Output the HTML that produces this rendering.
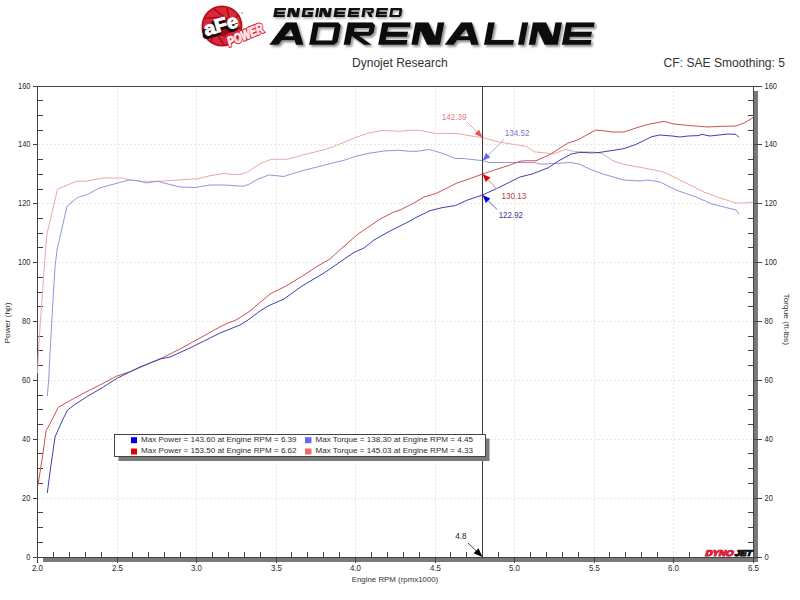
<!DOCTYPE html><html><head><meta charset="utf-8"><style>html,body{margin:0;padding:0;background:#fff;width:800px;height:600px;overflow:hidden}svg{display:block}text{font-family:"Liberation Sans",sans-serif}</style></head><body>
<svg width="800" height="600" viewBox="0 0 800 600">
<rect width="800" height="600" fill="#fff"/>
<g id="logo">
<circle cx="222" cy="26" r="20.5" fill="#b80c1c"/>
<circle cx="222" cy="26" r="18.8" fill="#d8283a"/>
<line x1="240.4" y1="27.6" x2="223.6" y2="34.9" stroke="#a00818" stroke-width="1.3"/>
<line x1="235.1" y1="39.1" x2="217.5" y2="33.8" stroke="#a00818" stroke-width="1.3"/>
<line x1="223.6" y1="44.4" x2="213.5" y2="29.1" stroke="#a00818" stroke-width="1.3"/>
<line x1="211.4" y1="41.2" x2="213.5" y2="22.9" stroke="#a00818" stroke-width="1.3"/>
<line x1="204.1" y1="30.8" x2="217.5" y2="18.2" stroke="#a00818" stroke-width="1.3"/>
<line x1="205.2" y1="18.2" x2="223.6" y2="17.1" stroke="#a00818" stroke-width="1.3"/>
<line x1="214.2" y1="9.2" x2="228.9" y2="20.2" stroke="#a00818" stroke-width="1.3"/>
<line x1="226.8" y1="8.1" x2="231.0" y2="26.0" stroke="#a00818" stroke-width="1.3"/>
<line x1="237.2" y1="15.4" x2="228.9" y2="31.8" stroke="#a00818" stroke-width="1.3"/>
<circle cx="222" cy="26" r="9" fill="#9a0a16"/>
<text x="220.6" y="33.4" transform="rotate(-15.7 222 31.3)" font-size="19" font-weight="bold" fill="#1a0a0c" stroke="#1a0a0c" stroke-width="2.6" text-anchor="middle" textLength="35" lengthAdjust="spacingAndGlyphs">aFe</text>
<text x="222.5" y="31.3" transform="rotate(-15.7 222 31.3)" font-size="19" font-weight="bold" fill="#fff" stroke="#fff" stroke-width="1" text-anchor="middle" textLength="35" lengthAdjust="spacingAndGlyphs">aFe</text>
<text x="247" y="39" transform="rotate(-23 247 39)" font-size="13.5" font-weight="bold" font-style="italic" fill="#fad4dc" stroke="#d81c30" stroke-width="3" paint-order="stroke" text-anchor="middle" textLength="38" lengthAdjust="spacingAndGlyphs">POWER</text>
<text x="247" y="39" transform="rotate(-23 247 39)" font-size="13.5" font-weight="bold" font-style="italic" fill="#fde4e8" stroke="#fde4e8" stroke-width="0.9" text-anchor="middle" textLength="38" lengthAdjust="spacingAndGlyphs">POWER</text>
<circle cx="242" cy="13" r="1" fill="#aaa"/>
</g>
<defs><filter id="blur1" x="-5%" y="-20%" width="110%" height="140%"><feGaussianBlur stdDeviation="0.8"/></filter></defs>
<path d="M274.76,8.00L286.06,8.00L285.69,10.20L277.39,10.20L277.13,11.74L285.03,11.74L284.64,14.05L276.73,14.05L276.62,14.70L284.92,14.70L284.55,16.90L273.25,16.90ZM288.51,8.00L293.69,8.00L296.06,13.61L297.01,8.00L300.01,8.00L298.50,16.90L293.32,16.90L290.95,11.29L290.00,16.90L287.00,16.90ZM303.01,8.00L313.91,8.00L313.54,10.20L305.64,10.20L304.87,14.70L309.77,14.70L309.86,14.20L307.41,14.20L307.78,12.00L313.23,12.00L312.40,16.90L301.50,16.90ZM316.51,8.00L319.11,8.00L317.60,16.90L315.00,16.90ZM320.31,8.00L325.49,8.00L327.86,13.61L328.81,8.00L331.81,8.00L330.30,16.90L325.12,16.90L322.75,11.29L321.80,16.90L318.80,16.90ZM334.91,8.00L346.11,8.00L345.74,10.20L337.54,10.20L337.28,11.74L345.09,11.74L344.69,14.05L336.88,14.05L336.77,14.70L344.97,14.70L344.60,16.90L333.40,16.90ZM348.91,8.00L360.11,8.00L359.74,10.20L351.54,10.20L351.28,11.74L359.09,11.74L358.69,14.05L350.88,14.05L350.77,14.70L358.97,14.70L358.60,16.90L347.40,16.90ZM362.91,8.00L373.01,8.00L374.01,9.20L373.51,12.14L372.11,13.34L371.06,13.34L372.70,16.90L369.25,16.90L365.71,9.19L364.40,16.90L361.40,16.90ZM366.10,10.22L365.84,11.74L371.18,11.74L371.43,10.22ZM376.91,8.00L388.11,8.00L387.74,10.20L379.54,10.20L379.28,11.74L387.09,11.74L386.69,14.05L378.88,14.05L378.77,14.70L386.97,14.70L386.60,16.90L375.40,16.90ZM390.71,8.00L401.31,8.00L402.31,9.20L401.20,15.70L399.80,16.90L389.20,16.90ZM393.04,10.20L392.24,14.92L398.64,14.92L399.44,10.20Z" fill="#888" fill-rule="evenodd" transform="translate(1.2,1.6)" filter="url(#blur1)" opacity="0.8"/>
<path d="M274.76,8.00L286.06,8.00L285.69,10.20L277.39,10.20L277.13,11.74L285.03,11.74L284.64,14.05L276.73,14.05L276.62,14.70L284.92,14.70L284.55,16.90L273.25,16.90ZM288.51,8.00L293.69,8.00L296.06,13.61L297.01,8.00L300.01,8.00L298.50,16.90L293.32,16.90L290.95,11.29L290.00,16.90L287.00,16.90ZM303.01,8.00L313.91,8.00L313.54,10.20L305.64,10.20L304.87,14.70L309.77,14.70L309.86,14.20L307.41,14.20L307.78,12.00L313.23,12.00L312.40,16.90L301.50,16.90ZM316.51,8.00L319.11,8.00L317.60,16.90L315.00,16.90ZM320.31,8.00L325.49,8.00L327.86,13.61L328.81,8.00L331.81,8.00L330.30,16.90L325.12,16.90L322.75,11.29L321.80,16.90L318.80,16.90ZM334.91,8.00L346.11,8.00L345.74,10.20L337.54,10.20L337.28,11.74L345.09,11.74L344.69,14.05L336.88,14.05L336.77,14.70L344.97,14.70L344.60,16.90L333.40,16.90ZM348.91,8.00L360.11,8.00L359.74,10.20L351.54,10.20L351.28,11.74L359.09,11.74L358.69,14.05L350.88,14.05L350.77,14.70L358.97,14.70L358.60,16.90L347.40,16.90ZM362.91,8.00L373.01,8.00L374.01,9.20L373.51,12.14L372.11,13.34L371.06,13.34L372.70,16.90L369.25,16.90L365.71,9.19L364.40,16.90L361.40,16.90ZM366.10,10.22L365.84,11.74L371.18,11.74L371.43,10.22ZM376.91,8.00L388.11,8.00L387.74,10.20L379.54,10.20L379.28,11.74L387.09,11.74L386.69,14.05L378.88,14.05L378.77,14.70L386.97,14.70L386.60,16.90L375.40,16.90ZM390.71,8.00L401.31,8.00L402.31,9.20L401.20,15.70L399.80,16.90L389.20,16.90ZM393.04,10.20L392.24,14.92L398.64,14.92L399.44,10.20Z" fill="#111" fill-rule="evenodd"/>
<path d="M269.40,44.70L285.96,22.50L296.64,22.50L303.50,44.70L296.00,44.70L294.63,40.26L281.78,40.26L278.47,44.70ZM284.76,36.26L293.39,36.26L290.63,29.16ZM313.42,22.50L338.42,22.50L340.85,25.50L337.77,41.70L334.20,44.70L309.20,44.70ZM318.38,27.20L315.85,40.47L332.15,40.47L334.67,27.20ZM347.92,22.50L372.62,22.50L375.05,25.50L373.66,32.82L370.09,35.82L359.15,35.82L371.40,44.70L363.93,44.70L351.86,35.96L350.20,44.70L343.70,44.70ZM354.75,28.05L354.03,31.82L368.65,31.82L369.36,28.05ZM382.47,22.50L410.77,22.50L409.88,27.20L388.07,27.20L387.20,31.82L408.01,31.82L407.07,36.76L386.26,36.76L385.64,40.00L407.44,40.00L406.55,44.70L378.25,44.70ZM415.62,22.50L428.53,22.50L435.16,36.49L437.82,22.50L444.32,22.50L440.10,44.70L427.19,44.70L420.56,30.71L417.90,44.70L411.40,44.70ZM444.70,44.70L461.24,22.50L471.90,22.50L478.75,44.70L471.26,44.70L469.89,40.26L457.07,40.26L453.76,44.70ZM460.04,36.26L468.66,36.26L465.90,29.16ZM488.22,22.50L494.72,22.50L491.39,40.00L513.89,40.00L513.00,44.70L484.00,44.70ZM522.22,22.50L528.22,22.50L524.00,44.70L518.00,44.70ZM532.97,22.50L546.02,22.50L552.81,36.49L555.47,22.50L561.97,22.50L557.75,44.70L544.70,44.70L537.91,30.71L535.25,44.70L528.75,44.70ZM566.12,22.50L594.72,22.50L593.83,27.20L571.73,27.20L570.85,31.82L591.95,31.82L591.01,36.76L569.91,36.76L569.29,40.00L591.39,40.00L590.50,44.70L561.90,44.70Z" fill="#777" fill-rule="evenodd" transform="translate(1.8,2)" filter="url(#blur1)" opacity="0.85"/>
<path d="M269.40,44.70L285.96,22.50L296.64,22.50L303.50,44.70L296.00,44.70L294.63,40.26L281.78,40.26L278.47,44.70ZM284.76,36.26L293.39,36.26L290.63,29.16ZM313.42,22.50L338.42,22.50L340.85,25.50L337.77,41.70L334.20,44.70L309.20,44.70ZM318.38,27.20L315.85,40.47L332.15,40.47L334.67,27.20ZM347.92,22.50L372.62,22.50L375.05,25.50L373.66,32.82L370.09,35.82L359.15,35.82L371.40,44.70L363.93,44.70L351.86,35.96L350.20,44.70L343.70,44.70ZM354.75,28.05L354.03,31.82L368.65,31.82L369.36,28.05ZM382.47,22.50L410.77,22.50L409.88,27.20L388.07,27.20L387.20,31.82L408.01,31.82L407.07,36.76L386.26,36.76L385.64,40.00L407.44,40.00L406.55,44.70L378.25,44.70ZM415.62,22.50L428.53,22.50L435.16,36.49L437.82,22.50L444.32,22.50L440.10,44.70L427.19,44.70L420.56,30.71L417.90,44.70L411.40,44.70ZM444.70,44.70L461.24,22.50L471.90,22.50L478.75,44.70L471.26,44.70L469.89,40.26L457.07,40.26L453.76,44.70ZM460.04,36.26L468.66,36.26L465.90,29.16ZM488.22,22.50L494.72,22.50L491.39,40.00L513.89,40.00L513.00,44.70L484.00,44.70ZM522.22,22.50L528.22,22.50L524.00,44.70L518.00,44.70ZM532.97,22.50L546.02,22.50L552.81,36.49L555.47,22.50L561.97,22.50L557.75,44.70L544.70,44.70L537.91,30.71L535.25,44.70L528.75,44.70ZM566.12,22.50L594.72,22.50L593.83,27.20L571.73,27.20L570.85,31.82L591.95,31.82L591.01,36.76L569.91,36.76L569.29,40.00L591.39,40.00L590.50,44.70L561.90,44.70Z" fill="#0c0c0c" fill-rule="evenodd" stroke="#cfcfcf" stroke-width="0.6" paint-order="stroke"/>
<text x="352" y="67" font-size="13" fill="#333" textLength="95.7" lengthAdjust="spacingAndGlyphs">Dynojet Research</text>
<text x="663.6" y="67" font-size="13" fill="#333" textLength="121.4" lengthAdjust="spacingAndGlyphs">CF: SAE Smoothing: 5</text>
<g stroke="#e6e6e6" stroke-width="1" stroke-dasharray="2,2"><line x1="38" y1="498.5" x2="753" y2="498.5"/><line x1="38" y1="439.5" x2="753" y2="439.5"/><line x1="38" y1="380.5" x2="753" y2="380.5"/><line x1="38" y1="321.5" x2="753" y2="321.5"/><line x1="38" y1="262.5" x2="753" y2="262.5"/><line x1="38" y1="203.5" x2="753" y2="203.5"/><line x1="38" y1="144.5" x2="753" y2="144.5"/><line x1="117.5" y1="87" x2="117.5" y2="557"/><line x1="196.5" y1="87" x2="196.5" y2="557"/><line x1="276.5" y1="87" x2="276.5" y2="557"/><line x1="355.5" y1="87" x2="355.5" y2="557"/><line x1="435.5" y1="87" x2="435.5" y2="557"/><line x1="514.5" y1="87" x2="514.5" y2="557"/><line x1="594.5" y1="87" x2="594.5" y2="557"/><line x1="673.5" y1="87" x2="673.5" y2="557"/></g>
<rect x="43" y="558" width="715" height="4" fill="#7a7a7a"/>
<rect x="754" y="91" width="4" height="471" fill="#7a7a7a"/>
<g stroke="#444" stroke-width="1"><line x1="37.5" y1="86.5" x2="762" y2="86.5"/><line x1="37.5" y1="86" x2="37.5" y2="558"/><line x1="37" y1="557.5" x2="754" y2="557.5"/><line x1="753.5" y1="86" x2="753.5" y2="558"/><line x1="33" y1="557.5" x2="38" y2="557.5"/><line x1="753" y1="557.5" x2="762" y2="557.5"/><line x1="37" y1="542.5" x2="43" y2="542.5"/><line x1="748" y1="542.5" x2="754" y2="542.5"/><line x1="37" y1="527.5" x2="43" y2="527.5"/><line x1="748" y1="527.5" x2="754" y2="527.5"/><line x1="37" y1="512.5" x2="43" y2="512.5"/><line x1="748" y1="512.5" x2="754" y2="512.5"/><line x1="33" y1="498.5" x2="38" y2="498.5"/><line x1="753" y1="498.5" x2="762" y2="498.5"/><line x1="37" y1="483.5" x2="43" y2="483.5"/><line x1="748" y1="483.5" x2="754" y2="483.5"/><line x1="37" y1="468.5" x2="43" y2="468.5"/><line x1="748" y1="468.5" x2="754" y2="468.5"/><line x1="37" y1="453.5" x2="43" y2="453.5"/><line x1="748" y1="453.5" x2="754" y2="453.5"/><line x1="33" y1="439.5" x2="38" y2="439.5"/><line x1="753" y1="439.5" x2="762" y2="439.5"/><line x1="37" y1="424.5" x2="43" y2="424.5"/><line x1="748" y1="424.5" x2="754" y2="424.5"/><line x1="37" y1="409.5" x2="43" y2="409.5"/><line x1="748" y1="409.5" x2="754" y2="409.5"/><line x1="37" y1="395.5" x2="43" y2="395.5"/><line x1="748" y1="395.5" x2="754" y2="395.5"/><line x1="33" y1="380.5" x2="38" y2="380.5"/><line x1="753" y1="380.5" x2="762" y2="380.5"/><line x1="37" y1="365.5" x2="43" y2="365.5"/><line x1="748" y1="365.5" x2="754" y2="365.5"/><line x1="37" y1="350.5" x2="43" y2="350.5"/><line x1="748" y1="350.5" x2="754" y2="350.5"/><line x1="37" y1="336.5" x2="43" y2="336.5"/><line x1="748" y1="336.5" x2="754" y2="336.5"/><line x1="33" y1="321.5" x2="38" y2="321.5"/><line x1="753" y1="321.5" x2="762" y2="321.5"/><line x1="37" y1="306.5" x2="43" y2="306.5"/><line x1="748" y1="306.5" x2="754" y2="306.5"/><line x1="37" y1="292.5" x2="43" y2="292.5"/><line x1="748" y1="292.5" x2="754" y2="292.5"/><line x1="37" y1="277.5" x2="43" y2="277.5"/><line x1="748" y1="277.5" x2="754" y2="277.5"/><line x1="33" y1="262.5" x2="38" y2="262.5"/><line x1="753" y1="262.5" x2="762" y2="262.5"/><line x1="37" y1="247.5" x2="43" y2="247.5"/><line x1="748" y1="247.5" x2="754" y2="247.5"/><line x1="37" y1="233.5" x2="43" y2="233.5"/><line x1="748" y1="233.5" x2="754" y2="233.5"/><line x1="37" y1="218.5" x2="43" y2="218.5"/><line x1="748" y1="218.5" x2="754" y2="218.5"/><line x1="33" y1="203.5" x2="38" y2="203.5"/><line x1="753" y1="203.5" x2="762" y2="203.5"/><line x1="37" y1="189.5" x2="43" y2="189.5"/><line x1="748" y1="189.5" x2="754" y2="189.5"/><line x1="37" y1="174.5" x2="43" y2="174.5"/><line x1="748" y1="174.5" x2="754" y2="174.5"/><line x1="37" y1="159.5" x2="43" y2="159.5"/><line x1="748" y1="159.5" x2="754" y2="159.5"/><line x1="33" y1="144.5" x2="38" y2="144.5"/><line x1="753" y1="144.5" x2="762" y2="144.5"/><line x1="37" y1="130.5" x2="43" y2="130.5"/><line x1="748" y1="130.5" x2="754" y2="130.5"/><line x1="37" y1="115.5" x2="43" y2="115.5"/><line x1="748" y1="115.5" x2="754" y2="115.5"/><line x1="37" y1="100.5" x2="43" y2="100.5"/><line x1="748" y1="100.5" x2="754" y2="100.5"/><line x1="33" y1="86.5" x2="38" y2="86.5"/><line x1="753" y1="86.5" x2="762" y2="86.5"/><line x1="37.5" y1="557" x2="37.5" y2="563"/><line x1="53.5" y1="552" x2="53.5" y2="558"/><line x1="69.5" y1="552" x2="69.5" y2="558"/><line x1="85.5" y1="552" x2="85.5" y2="558"/><line x1="101.5" y1="552" x2="101.5" y2="558"/><line x1="117.5" y1="557" x2="117.5" y2="563"/><line x1="132.5" y1="552" x2="132.5" y2="558"/><line x1="148.5" y1="552" x2="148.5" y2="558"/><line x1="164.5" y1="552" x2="164.5" y2="558"/><line x1="180.5" y1="552" x2="180.5" y2="558"/><line x1="196.5" y1="557" x2="196.5" y2="563"/><line x1="212.5" y1="552" x2="212.5" y2="558"/><line x1="228.5" y1="552" x2="228.5" y2="558"/><line x1="244.5" y1="552" x2="244.5" y2="558"/><line x1="260.5" y1="552" x2="260.5" y2="558"/><line x1="276.5" y1="557" x2="276.5" y2="563"/><line x1="291.5" y1="552" x2="291.5" y2="558"/><line x1="307.5" y1="552" x2="307.5" y2="558"/><line x1="323.5" y1="552" x2="323.5" y2="558"/><line x1="339.5" y1="552" x2="339.5" y2="558"/><line x1="355.5" y1="557" x2="355.5" y2="563"/><line x1="371.5" y1="552" x2="371.5" y2="558"/><line x1="387.5" y1="552" x2="387.5" y2="558"/><line x1="403.5" y1="552" x2="403.5" y2="558"/><line x1="419.5" y1="552" x2="419.5" y2="558"/><line x1="435.5" y1="557" x2="435.5" y2="563"/><line x1="450.5" y1="552" x2="450.5" y2="558"/><line x1="466.5" y1="552" x2="466.5" y2="558"/><line x1="482.5" y1="552" x2="482.5" y2="558"/><line x1="498.5" y1="552" x2="498.5" y2="558"/><line x1="514.5" y1="557" x2="514.5" y2="563"/><line x1="530.5" y1="552" x2="530.5" y2="558"/><line x1="546.5" y1="552" x2="546.5" y2="558"/><line x1="562.5" y1="552" x2="562.5" y2="558"/><line x1="578.5" y1="552" x2="578.5" y2="558"/><line x1="594.5" y1="557" x2="594.5" y2="563"/><line x1="609.5" y1="552" x2="609.5" y2="558"/><line x1="625.5" y1="552" x2="625.5" y2="558"/><line x1="641.5" y1="552" x2="641.5" y2="558"/><line x1="657.5" y1="552" x2="657.5" y2="558"/><line x1="673.5" y1="557" x2="673.5" y2="563"/><line x1="689.5" y1="552" x2="689.5" y2="558"/><line x1="705.5" y1="552" x2="705.5" y2="558"/><line x1="721.5" y1="552" x2="721.5" y2="558"/><line x1="737.5" y1="552" x2="737.5" y2="558"/><line x1="753.5" y1="557" x2="753.5" y2="563"/></g>
<g font-size="8.5" fill="#2a2a2a"><text x="30.4" y="560.0" text-anchor="end" textLength="4.2" lengthAdjust="spacingAndGlyphs">0</text><text x="764.6" y="560.0" textLength="4.2" lengthAdjust="spacingAndGlyphs">0</text><text x="30.4" y="501.0" text-anchor="end" textLength="8.3" lengthAdjust="spacingAndGlyphs">20</text><text x="764.6" y="501.0" textLength="8.3" lengthAdjust="spacingAndGlyphs">20</text><text x="30.4" y="442.0" text-anchor="end" textLength="8.3" lengthAdjust="spacingAndGlyphs">40</text><text x="764.6" y="442.0" textLength="8.3" lengthAdjust="spacingAndGlyphs">40</text><text x="30.4" y="383.0" text-anchor="end" textLength="8.3" lengthAdjust="spacingAndGlyphs">60</text><text x="764.6" y="383.0" textLength="8.3" lengthAdjust="spacingAndGlyphs">60</text><text x="30.4" y="324.0" text-anchor="end" textLength="8.3" lengthAdjust="spacingAndGlyphs">80</text><text x="764.6" y="324.0" textLength="8.3" lengthAdjust="spacingAndGlyphs">80</text><text x="30.4" y="265.0" text-anchor="end" textLength="12.4" lengthAdjust="spacingAndGlyphs">100</text><text x="764.6" y="265.0" textLength="12.4" lengthAdjust="spacingAndGlyphs">100</text><text x="30.4" y="206.0" text-anchor="end" textLength="12.4" lengthAdjust="spacingAndGlyphs">120</text><text x="764.6" y="206.0" textLength="12.4" lengthAdjust="spacingAndGlyphs">120</text><text x="30.4" y="147.0" text-anchor="end" textLength="12.4" lengthAdjust="spacingAndGlyphs">140</text><text x="764.6" y="147.0" textLength="12.4" lengthAdjust="spacingAndGlyphs">140</text><text x="30.4" y="89.0" text-anchor="end" textLength="12.4" lengthAdjust="spacingAndGlyphs">160</text><text x="764.6" y="89.0" textLength="12.4" lengthAdjust="spacingAndGlyphs">160</text><text x="37.5" y="570.8" text-anchor="middle" textLength="11" lengthAdjust="spacingAndGlyphs">2.0</text><text x="117.5" y="570.8" text-anchor="middle" textLength="11" lengthAdjust="spacingAndGlyphs">2.5</text><text x="196.5" y="570.8" text-anchor="middle" textLength="11" lengthAdjust="spacingAndGlyphs">3.0</text><text x="276.5" y="570.8" text-anchor="middle" textLength="11" lengthAdjust="spacingAndGlyphs">3.5</text><text x="355.5" y="570.8" text-anchor="middle" textLength="11" lengthAdjust="spacingAndGlyphs">4.0</text><text x="435.5" y="570.8" text-anchor="middle" textLength="11" lengthAdjust="spacingAndGlyphs">4.5</text><text x="514.5" y="570.8" text-anchor="middle" textLength="11" lengthAdjust="spacingAndGlyphs">5.0</text><text x="594.5" y="570.8" text-anchor="middle" textLength="11" lengthAdjust="spacingAndGlyphs">5.5</text><text x="673.5" y="570.8" text-anchor="middle" textLength="11" lengthAdjust="spacingAndGlyphs">6.0</text><text x="753.5" y="570.8" text-anchor="middle" textLength="11" lengthAdjust="spacingAndGlyphs">6.5</text></g>
<text x="395" y="582" font-size="8" fill="#333" text-anchor="middle" textLength="86.5" lengthAdjust="spacingAndGlyphs">Engine RPM (rpmx1000)</text>
<text transform="translate(10.3,323) rotate(-90)" font-size="8" fill="#333" text-anchor="middle" textLength="41" lengthAdjust="spacingAndGlyphs">Power (hp)</text>
<text transform="translate(783.5,319.2) rotate(90)" font-size="8" fill="#333" text-anchor="middle" textLength="51.5" lengthAdjust="spacingAndGlyphs">Torque (ft-lbs)</text>
<g clip-path="url(#plotclip)">
<defs><clipPath id="plotclip"><rect x="37" y="86" width="717" height="472"/></clipPath></defs>
<polyline fill="none" stroke="#eaa8a8" stroke-width="1" stroke-linejoin="round" points="37.5,373 38.5,350 40.5,320 43.75,275 45.5,250 47,233.75 57.5,189.25 76.25,181.25 86.25,181.25 98.75,178.75 105,178 122.5,178 130,180 140,181.25 160,181.25 177.5,180 197.5,178.75 210,175.75 225,173.25 230,174.25 240,174.5 247.5,172 260,163.75 271.25,159.25 287.5,159.25 302.5,155 315,152 327.5,148.75 340,144 353.75,138.2 367.5,133.4 381.3,130.4 400.5,131.3 408.8,130.4 419.8,130.4 428,132 436.3,133.6 443.75,133.3 457.5,133.6 471.3,136 482.5,137.5 498.8,142 512.5,144.2 526.3,146.3 534.5,151.8 544.75,152.9 553.5,153.75 565.75,149.4 574.5,151.65 593.75,152 602.5,153.75 613,160.75 624,164.4 644,168 664,172 680,180 704,192 720,198 736,203 744,203 753.5,202"/>
<polyline fill="none" stroke="#9494dc" stroke-width="1" stroke-linejoin="round" points="47.3,396 48.7,380 50,353 53,300 55,267.5 57,250 67,206.25 77.5,197.5 87.5,194.5 98.75,188.25 115,183.75 128.75,180 137.5,180.5 146.25,183 157.5,181.25 168.75,184.25 180,187 195,187.5 210,185 225,185 242.5,186.25 248.75,184.5 257.5,179.25 268.75,175 275,175.5 283.75,176.5 292.5,173.75 305,170 320,166.25 332.5,163 345,160 355,156.5 367.5,153.5 384,151 399.1,150.2 408.8,151.3 417,151.3 428,149.6 432.2,150.2 443.75,153.8 454.8,158.4 464.4,158.6 482.5,160.7 489,162.5 512.5,162.5 534.25,162.5 541.25,164.25 571,162.5 579.75,164.25 588.5,168.6 602.5,173.9 624,180 640,181 648,180 660,182 676,190 696,197 712,204 736,210 739,214"/>
<polyline fill="none" stroke="#cc5252" stroke-width="1" stroke-linejoin="round" points="38,485 43,453 46,431 51.9,420 58.1,407.5 68.75,401.25 85,392.5 100,385 116.25,376.25 131.25,371.25 150,363 160,359 180,349 200,338 216,329 228,323 236,320 244,315 250,311 270,294 286,286 304,275 316,267 330,259 342,248 358,234 370,226 380,219 394,212 400,210 412,204 424,197 436,193.5 445,189 457,183 469,179 482.5,174 496,169.5 508,165.7 520,161.2 525.5,160.75 536,160.75 550,154.6 567.5,143.25 578,139.75 595.5,130.1 602.5,130.65 612,132 624,132 636,128 648,124.4 664,121.4 674,124 688,125.4 708,127 720,126.4 736,126 744,123 752,118.4 753.5,117"/>
<polyline fill="none" stroke="#4040ac" stroke-width="1" stroke-linejoin="round" points="47.3,493 50,472 55,437 62.6,420 67.5,410 75,404.4 87.5,396.3 102.5,387.5 117.5,378 128.75,372.5 140,367 160,359 170,357 190,348 204,341 220,333 240,325 248,320 260,311 268,306 284,299 302,286 324,273 340,262 354,252.4 364,248 374,240 390,231 410,221 415,218 430,210.7 442,207.7 455.5,205.5 467.5,200 482.5,195 497.5,188.2 511,181.5 520,177 532.5,173.9 548.25,167.75 558.75,160.75 571,154.1 579.75,152.35 592,152.9 600,152.4 624,148.6 636,144.4 652,136.6 660,135 672,136 680,137 688,136 698,135.6 702,134.4 710,136 728,134 736,134.4 739,137.6"/>
</g>
<line x1="482.5" y1="86" x2="482.5" y2="557" stroke="#3a3a3a" stroke-width="1"/>
<line x1="467" y1="122" x2="476.8" y2="131.8" stroke="#f0a0a0" stroke-width="1"/><polygon points="482.5,137.5 474.6,134.1 479.1,129.6" fill="#e85a5a"/>
<line x1="504" y1="139.5" x2="488.2" y2="155.1" stroke="#a8a8f0" stroke-width="1"/><polygon points="482.5,160.7 485.9,152.8 490.4,157.4" fill="#6a6ae8"/>
<line x1="497" y1="189" x2="488.1" y2="179.8" stroke="#e08080" stroke-width="1"/><polygon points="482.5,174 490.4,177.5 485.8,182.0" fill="#e00000"/>
<line x1="497" y1="209.5" x2="488.2" y2="200.7" stroke="#6060c0" stroke-width="1"/><polygon points="482.5,195 490.4,198.4 485.9,202.9" fill="#0000d8"/>
<line x1="468" y1="543" x2="476.0" y2="550.7" stroke="#444" stroke-width="1"/><polygon points="482.5,557 473.6,553.3 478.5,548.2" fill="#000"/>
<g font-size="9">
<text x="441.8" y="119.6" fill="#dc8080" textLength="24.8" lengthAdjust="spacingAndGlyphs">142.39</text>
<text x="504.8" y="136.3" fill="#7a7ac8" textLength="24.8" lengthAdjust="spacingAndGlyphs">134.52</text>
<text x="501.5" y="199.1" fill="#b83c48" textLength="24.7" lengthAdjust="spacingAndGlyphs">130.13</text>
<text x="498.7" y="217.8" fill="#3c3c98" textLength="24.3" lengthAdjust="spacingAndGlyphs">122.92</text>
<text x="455.3" y="539.2" fill="#222" textLength="11.3" lengthAdjust="spacingAndGlyphs">4.8</text>
</g>
<rect x="118.5" y="438.5" width="371" height="22.5" fill="#7a7a7a"/>
<rect x="114.5" y="434.5" width="371" height="22" fill="#fff" stroke="#444" stroke-width="1"/>
<rect x="131" y="437.2" width="6" height="6" fill="#0000e0"/>
<rect x="131" y="448.5" width="6" height="6" fill="#e00000"/>
<rect x="305" y="437.2" width="6.5" height="6" fill="#6a6aee"/>
<rect x="305" y="448.5" width="6.5" height="6" fill="#ee6a6a"/>
<g font-size="7.7" fill="#2e2e2e">
<text x="141" y="442.1" textLength="155.6" lengthAdjust="spacingAndGlyphs">Max Power = 143.60 at Engine RPM = 6.39</text>
<text x="141" y="453.2" textLength="155.6" lengthAdjust="spacingAndGlyphs">Max Power = 153.50 at Engine RPM = 6.62</text>
<text x="315.5" y="442.1" textLength="157.5" lengthAdjust="spacingAndGlyphs">Max Torque = 138.30 at Engine RPM = 4.45</text>
<text x="315.5" y="453.2" textLength="157.5" lengthAdjust="spacingAndGlyphs">Max Torque = 145.03 at Engine RPM = 4.33</text>
</g>
<rect x="703" y="548" width="50" height="9" fill="#fff"/>
<g transform="translate(0,556) skewX(-18) translate(0,-556)">
<text x="705" y="556.4" font-size="8.2" font-weight="bold" fill="#d8203a" stroke="#d8203a" stroke-width="1.1" textLength="28" lengthAdjust="spacingAndGlyphs">DYNO</text>
<text x="734.3" y="556.4" font-size="8.2" font-weight="bold" fill="#111" stroke="#111" stroke-width="1.1" textLength="17.5" lengthAdjust="spacingAndGlyphs">JET</text>
</g>
</svg></body></html>
